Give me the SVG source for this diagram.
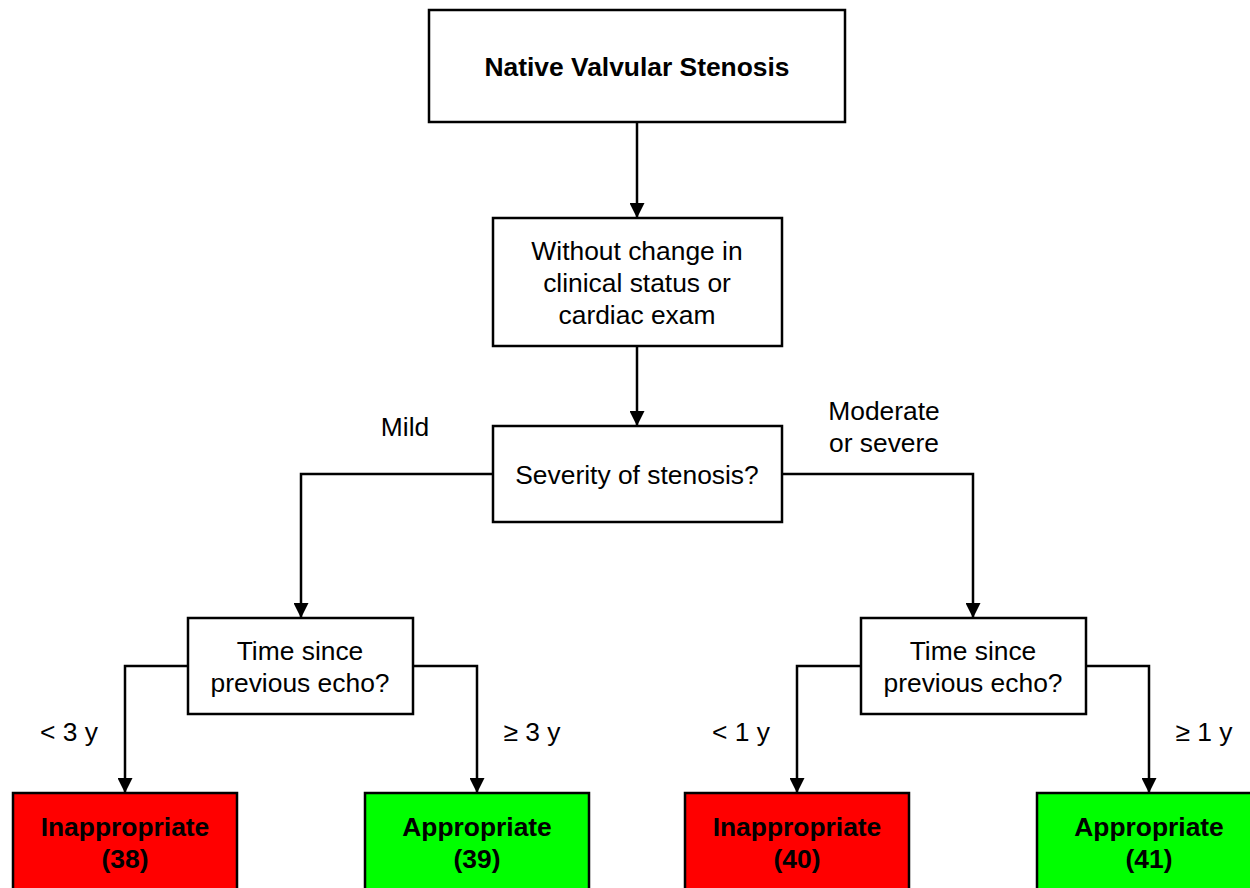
<svg xmlns="http://www.w3.org/2000/svg" width="1250" height="888" viewBox="0 0 1250 888">
  <style>
    .box { fill: #ffffff; stroke: #000000; stroke-width: 2.5; }
    .red { fill: #ff0000; stroke: #000000; stroke-width: 2.5; }
    .green { fill: #00ff00; stroke: #000000; stroke-width: 2.5; }
    .link { fill: none; stroke: #000000; stroke-width: 2.5; marker-end: url(#arrow); }
    text { font-family: "Liberation Sans", Arial, Helvetica, sans-serif; font-size: 26.4px; fill: #000000; text-anchor: middle; }
    .bold { font-weight: bold; }
  </style>
  <defs>
    <marker id="arrow" markerUnits="userSpaceOnUse" markerWidth="15" markerHeight="15" refX="15" refY="7.5" orient="auto">
      <path d="M0,0 L15,7.5 L0,15 Z" fill="#000000"/>
    </marker>
  </defs>
  <rect width="1250" height="888" fill="#ffffff"/>

  <g id="connectors">
    <path class="link" d="M637,122 V218"/>
    <path class="link" d="M637,346 V426"/>
    <path class="link" d="M493,474 H301 V618"/>
    <path class="link" d="M782,474 H973 V618"/>
    <path class="link" d="M188,666 H125 V793"/>
    <path class="link" d="M413,666 H477 V793"/>
    <path class="link" d="M861,666 H797 V793"/>
    <path class="link" d="M1086,666 H1149 V793"/>
  </g>

  <g id="edge-labels">
    <text x="405" y="436">Mild</text>
    <text x="884" y="420">Moderate</text>
    <text x="884" y="452">or severe</text>
    <text x="69" y="741">&lt; 3 y</text>
    <text x="532" y="741">≥ 3 y</text>
    <text x="741" y="741">&lt; 1 y</text>
    <text x="1204" y="741">≥ 1 y</text>
  </g>

  <g id="native-valvular-stenosis">
    <rect class="box" x="429" y="10" width="416" height="112"/>
    <text class="bold" x="637" y="76">Native Valvular Stenosis</text>
  </g>

  <g id="without-change">
    <rect class="box" x="493" y="218" width="289" height="128"/>
    <text x="637" y="260">Without change in</text>
    <text x="637" y="292">clinical status or</text>
    <text x="637" y="324">cardiac exam</text>
  </g>

  <g id="severity">
    <rect class="box" x="493" y="426" width="289" height="96"/>
    <text x="637" y="484">Severity of stenosis?</text>
  </g>

  <g id="time-since-mild">
    <rect class="box" x="188" y="618" width="225" height="96"/>
    <text x="300" y="660">Time since</text>
    <text x="300" y="692">previous echo?</text>
  </g>

  <g id="time-since-severe">
    <rect class="box" x="861" y="618" width="225" height="96"/>
    <text x="973" y="660">Time since</text>
    <text x="973" y="692">previous echo?</text>
  </g>

  <g id="result-38">
    <rect class="red" x="13" y="793" width="224" height="120"/>
    <text class="bold" x="125" y="836">Inappropriate</text>
    <text class="bold" x="125" y="868">(38)</text>
  </g>

  <g id="result-39">
    <rect class="green" x="365" y="793" width="224" height="120"/>
    <text class="bold" x="477" y="836">Appropriate</text>
    <text class="bold" x="477" y="868">(39)</text>
  </g>

  <g id="result-40">
    <rect class="red" x="685" y="793" width="224" height="120"/>
    <text class="bold" x="797" y="836">Inappropriate</text>
    <text class="bold" x="797" y="868">(40)</text>
  </g>

  <g id="result-41">
    <rect class="green" x="1037" y="793" width="224" height="120"/>
    <text class="bold" x="1149" y="836">Appropriate</text>
    <text class="bold" x="1149" y="868">(41)</text>
  </g>
</svg>
